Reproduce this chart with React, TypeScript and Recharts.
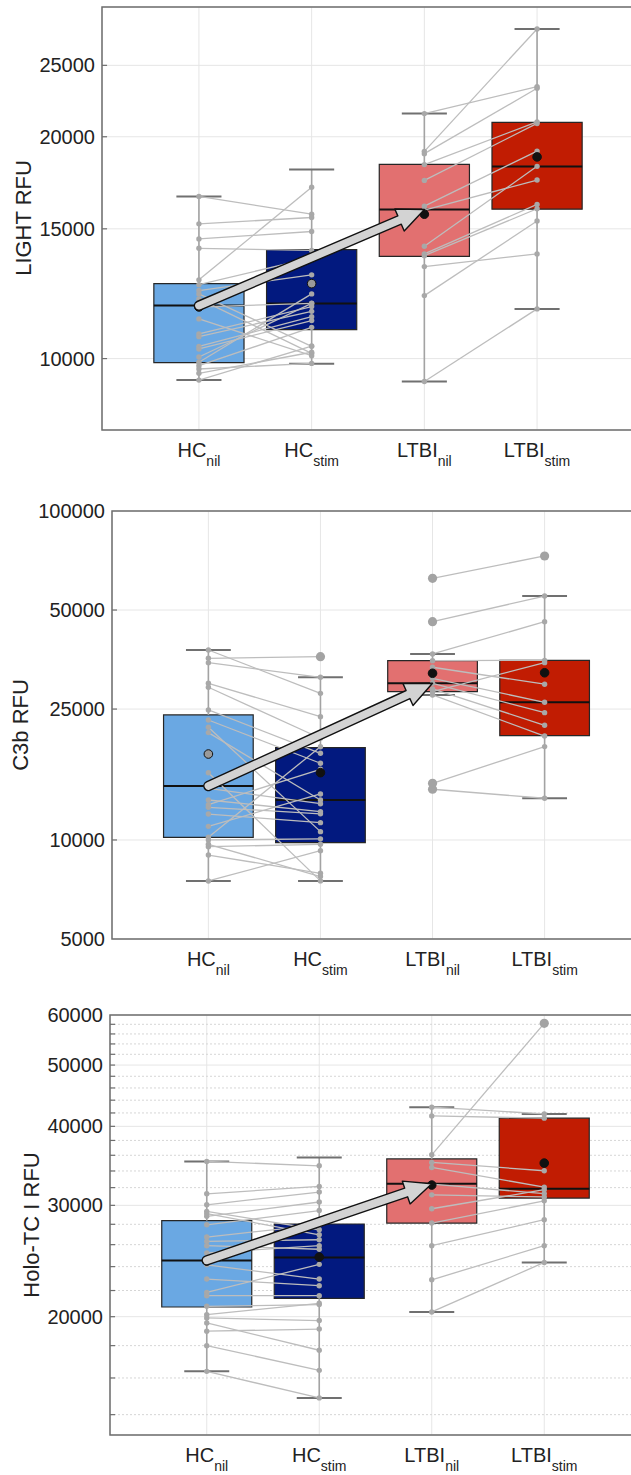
import React from "react";
import {
  CartesianGrid,
  ComposedChart,
  ReferenceArea,
  ReferenceLine,
  Scatter,
  XAxis,
  YAxis,
} from "recharts";

// categories
const catMain = ["HC", "HC", "LTBI", "LTBI"];
const catSub = ["nil", "stim", "nil", "stim"];
const catX = [1, 2, 3, 4];

// LIGHT panel
const lightHcNil = [16600, 15235, 14535, 14115, 12790, 12600, 12370, 12240, 12050, 11750, 11320, 10800, 10710, 10390, 10305, 9885, 9780, 9680, 9550, 9350, 10050];
const lightHcStim = [15700, 15540, 14875, 14020, 17080, 13700, 12990, 10390, 10165, 11885, 10090, 11765, 11590, 11400, 11260, 12240, 11025, 9850, 10200, 10400, 11880];
const lightLtbiNil = [21500, 19110, 18970, 18335, 17450, 16100, 15900, 14205, 13870, 13795, 13330, 12175, 9310];
const lightLtbiStim = [23390, 28010, 23270, 20950, 20850, 19125, 17470, 18235, 16190, 15970, 13870, 15370, 11680];
const lightQ1 = [9875, 10950, 13760, 15950];
const lightMedian = [11800, 11880, 15935, 18230];
const lightQ3 = [12640, 14060, 18350, 20920];
const lightLow = [9350, 9840, 9310, 11680];
const lightHigh = [16600, 18060, 21500, 28010];
const lightMean = [11750, 12640, 15700, 18780];
const lightTicks = [10000, 15000, 20000, 25000];
const lightDomain = [8000, 30000];

// C3b panel
const c3bHcNil = [37800, 35660, 34590, 29940, 29120, 24840, 23160, 21200, 14360, 13230, 12570, 11990, 10190, 10000, 9540, 9000, 7505, 9700, 16000, 12800, 11000, 22000];
const c3bHcStim = [27910, 36070, 31220, 23710, 20380, 18340, 17110, 13230, 12890, 12190, 12010, 11290, 19200, 10080, 9700, 7920, 9280, 7740, 7510, 16400, 13800, 10600];
const c3bLtbiNil = [62430, 46090, 36760, 35080, 33500, 31000, 29940, 28800, 28240, 27590, 14870, 14260];
const c3bLtbiStim = [72990, 55140, 46090, 35160, 29750, 26210, 24380, 22320, 34600, 20700, 19220, 13390];
const c3bQ1 = [10190, 9815, 28240, 20750];
const c3bMedian = [14590, 13230, 29940, 26210];
const c3bQ3 = [23990, 19080, 35080, 35160];
const c3bLow = [7505, 7510, 27590, 13390];
const c3bHigh = [37800, 31220, 36760, 55140];
const c3bMean = [18250, 16020, 32120, 32230];
const c3bTicks = [5000, 10000, 25000, 50000, 100000];
const c3bDomain = [5000, 100000];

// Holo-TC I panel
const holoHcNil = [35200, 31290, 30060, 29350, 29100, 28820, 27950, 26730, 26310, 25900, 25220, 24160, 22940, 21850, 21590, 20770, 20150, 19910, 19550, 18970, 18000, 16390];
const holoHcStim = [34650, 32140, 31490, 27450, 26950, 30370, 29440, 27950, 26470, 25570, 25900, 22940, 22390, 24200, 21590, 20900, 21000, 19720, 17700, 19120, 16450, 14880];
const holoLtbiNil = [42890, 41550, 36060, 35070, 34440, 32400, 31170, 29630, 28130, 25900, 22880, 20350];
const holoLtbiStim = [41850, 41210, 58210, 34030, 32060, 31310, 30930, 31760, 30500, 28470, 25900, 24370];
const holoQ1 = [20720, 21380, 28130, 30810];
const holoMedian = [24550, 24820, 32450, 31870];
const holoQ3 = [28370, 28030, 35530, 41210];
const holoLow = [16390, 14880, 20350, 24370];
const holoHigh = [35200, 35710, 42890, 41850];
const holoMean = [24500, 24850, 32300, 34990];
const holoTicks = [20000, 30000, 40000, 50000, 60000];
const holoMinorTicks = [14000, 16000, 18000, 22000, 24000, 26000, 28000, 32000, 34000, 36000, 38000, 42000, 44000, 46000, 48000, 52000, 54000, 56000, 58000];
const holoDomain = [13000, 60000];

const FONT = "'Liberation Sans', Arial, Helvetica, sans-serif";
const boxColors = ["#6aa8e3", "#02197f", "#e27070", "#c11c02"];
const xDomain = [0.14, 4.86];
const tickLen = 0.045; // inward tick length, in x units

const dot = (p: any) => <circle cx={p.cx} cy={p.cy} r={2.7} fill="#a8a8a8" />;
const bigDot = (p: any) => <circle cx={p.cx} cy={p.cy} r={4.6} fill="#a3a3a3" />;
const noShape = () => <g />;

const arrowLine = (p: any) => {
  const pts = p.points || [];
  if (pts.length < 2) return <g />;
  const a = pts[0];
  const b = pts[1];
  const dx = b.x - a.x;
  const dy = b.y - a.y;
  const len = Math.hypot(dx, dy) || 1;
  const ux = dx / len;
  const uy = dy / len;
  const nx = -uy;
  const ny = ux;
  const w = 4.5;
  const h = 12;
  const L = 27;
  const bx = b.x - ux * L;
  const by = b.y - uy * L;
  const P = (x: number, y: number) => `${x.toFixed(1)},${y.toFixed(1)}`;
  const d =
    `M${P(a.x + nx * w, a.y + ny * w)} L${P(bx + nx * w, by + ny * w)} L${P(bx + nx * h, by + ny * h)} ` +
    `L${P(b.x, b.y)} L${P(bx - nx * h, by - ny * h)} L${P(bx - nx * w, by - ny * w)} ` +
    `L${P(a.x - nx * w, a.y - ny * w)} A${w},${w} 0 0 0 ${P(a.x + nx * w, a.y + ny * w)} Z`;
  return <path d={d} fill="#d3d3d3" stroke="#111" strokeWidth={1.4} strokeLinejoin="round" />;
};

const catTick = (p: any) => {
  const i = Number(p.payload.value) - 1;
  return (
    <text x={p.x} y={p.y + 27} textAnchor="middle" fontSize={20} fill="#222" fontFamily={FONT}>
      {catMain[i]}
      <tspan dy={9} fontSize={14}>
        {catSub[i]}
      </tspan>
    </text>
  );
};

type PanelProps = {
  title: string;
  titleX: number;
  titleY: number;
  top: number;
  height: number;
  marginTop: number;
  marginRight: number;
  axisWidth: number;
  xAxisHeight: number;
  domain: number[];
  ticks: number[];
  minorTicks?: number[];
  hcNil: number[];
  hcStim: number[];
  ltbiNil: number[];
  ltbiStim: number[];
  q1: number[];
  median: number[];
  q3: number[];
  low: number[];
  high: number[];
  mean: number[];
  meanFill: string[];
};

function Panel(props: PanelProps) {
  const { domain, q1, median, q3, low, high, mean, meanFill } = props;
  const pairs = [
    ...props.hcNil.map((v, k) => [
      { x: 1, y: v },
      { x: 2, y: props.hcStim[k] },
    ]),
    ...props.ltbiNil.map((v, k) => [
      { x: 3, y: v },
      { x: 4, y: props.ltbiStim[k] },
    ]),
  ];
  const outliers = pairs.flat().filter((pt) => pt.y > high[pt.x - 1] || pt.y < low[pt.x - 1]);
  const meanPts = mean.map((m, i) => ({ x: catX[i], y: m }));
  const arrowPts = [
    { x: 1, y: median[0] },
    { x: 3, y: median[2] },
  ];
  const yTickMarks = [...props.ticks, ...(props.minorTicks || [])].filter(
    (t) => t > domain[0] && t < domain[1]
  );

  return (
    <>
      <div
        style={{
          position: "absolute",
          left: props.titleX,
          top: props.titleY,
          transform: "translate(-50%, -50%) rotate(-90deg)",
          whiteSpace: "nowrap",
          fontSize: 22,
          color: "#222",
          fontFamily: FONT,
        }}
      >
        {props.title}
      </div>
      <div style={{ position: "absolute", left: 0, top: props.top }}>
        <ComposedChart
          width={700}
          height={props.height}
          margin={{ top: props.marginTop, right: props.marginRight, left: 0, bottom: 0 }}
        >
          <CartesianGrid stroke="#e6e6e6" />
          {props.minorTicks && (
            <CartesianGrid vertical={false} horizontalValues={props.minorTicks} stroke="#d6d6d6" strokeDasharray="2 2" />
          )}
          <XAxis
            type="number"
            dataKey="x"
            domain={xDomain}
            allowDataOverflow
            ticks={catX}
            interval={0}
            tick={catTick}
            tickLine={false}
            axisLine={false}
            tickSize={0}
            tickMargin={0}
            height={props.xAxisHeight}
          />
          <YAxis
            type="number"
            dataKey="y"
            scale="log"
            domain={domain}
            allowDataOverflow
            ticks={props.ticks}
            interval={0}
            width={props.axisWidth}
            tickLine={false}
            axisLine={false}
            tickSize={0}
            tickMargin={7}
            tick={{ fill: "#222", fontSize: 20, fontFamily: FONT }}
          />
          <ReferenceArea
            x1={xDomain[0]}
            x2={xDomain[1]}
            y1={domain[0]}
            y2={domain[1]}
            fill="none"
            stroke="#6e6e6e"
            strokeWidth={1.5}
          />
          {yTickMarks.map((t) => (
            <ReferenceLine
              key={`yt${t}`}
              segment={[
                { x: xDomain[0], y: t },
                { x: xDomain[0] + tickLen, y: t },
              ]}
              stroke="#6e6e6e"
              strokeWidth={1.2}
            />
          ))}
          {catX.map((c, i) => (
            <ReferenceLine
              key={`wh${i}`}
              segment={[
                { x: c, y: q3[i] },
                { x: c, y: high[i] },
              ]}
              stroke="#a3a3a3"
              strokeWidth={1.6}
            />
          ))}
          {catX.map((c, i) => (
            <ReferenceLine
              key={`wl${i}`}
              segment={[
                { x: c, y: low[i] },
                { x: c, y: q1[i] },
              ]}
              stroke="#a3a3a3"
              strokeWidth={1.6}
            />
          ))}
          {catX.map((c, i) => (
            <ReferenceLine
              key={`ch${i}`}
              segment={[
                { x: c - 0.2, y: high[i] },
                { x: c + 0.2, y: high[i] },
              ]}
              stroke="#707070"
              strokeWidth={2}
            />
          ))}
          {catX.map((c, i) => (
            <ReferenceLine
              key={`cl${i}`}
              segment={[
                { x: c - 0.2, y: low[i] },
                { x: c + 0.2, y: low[i] },
              ]}
              stroke="#707070"
              strokeWidth={2}
            />
          ))}
          {catX.map((c, i) => (
            <ReferenceArea
              key={`box${i}`}
              x1={c - 0.4}
              x2={c + 0.4}
              y1={q1[i]}
              y2={q3[i]}
              fill={boxColors[i]}
              fillOpacity={1}
              stroke="#262626"
              strokeWidth={1.2}
            />
          ))}
          {catX.map((c, i) => (
            <ReferenceLine
              key={`med${i}`}
              segment={[
                { x: c - 0.4, y: median[i] },
                { x: c + 0.4, y: median[i] },
              ]}
              stroke="#111"
              strokeWidth={2}
            />
          ))}
          {pairs.map((pr, k) => (
            <Scatter
              key={`pair${k}`}
              data={pr}
              line={{ stroke: "#bdbdbd", strokeWidth: 1.3 }}
              shape={dot}
              isAnimationActive={false}
            />
          ))}
          <Scatter data={outliers} shape={bigDot} isAnimationActive={false} />
          <Scatter
            data={meanPts}
            shape={(p: any) => (
              <circle cx={p.cx} cy={p.cy} r={4.3} fill={meanFill[p.payload.x - 1]} stroke="#111" strokeWidth={1} />
            )}
            isAnimationActive={false}
          />
          <Scatter data={arrowPts} line={arrowLine} shape={noShape} isAnimationActive={false} />
        </ComposedChart>
      </div>
    </>
  );
}

export default function App() {
  return (
    <div
      style={{
        position: "absolute",
        left: 0,
        top: 0,
        width: 631,
        height: 1475,
        overflow: "hidden",
        background: "#fff",
        fontFamily: FONT,
      }}
    >
      <Panel
        title="LIGHT RFU"
        titleX={24}
        titleY={218}
        top={0}
        height={480}
        marginTop={7}
        marginRight={66}
        axisWidth={102}
        xAxisHeight={50}
        domain={lightDomain}
        ticks={lightTicks}
        hcNil={lightHcNil}
        hcStim={lightHcStim}
        ltbiNil={lightLtbiNil}
        ltbiStim={lightLtbiStim}
        q1={lightQ1}
        median={lightMedian}
        q3={lightQ3}
        low={lightLow}
        high={lightHigh}
        mean={lightMean}
        meanFill={["#111", "#9a9a9a", "#111", "#111"]}
      />
      <Panel
        title="C3b RFU"
        titleX={21}
        titleY={725}
        top={490}
        height={500}
        marginTop={21}
        marginRight={59}
        axisWidth={112}
        xAxisHeight={51}
        domain={c3bDomain}
        ticks={c3bTicks}
        hcNil={c3bHcNil}
        hcStim={c3bHcStim}
        ltbiNil={c3bLtbiNil}
        ltbiStim={c3bLtbiStim}
        q1={c3bQ1}
        median={c3bMedian}
        q3={c3bQ3}
        low={c3bLow}
        high={c3bHigh}
        mean={c3bMean}
        meanFill={["#9a9a9a", "#111", "#111", "#111"]}
      />
      <Panel
        title="Holo-TC I RFU"
        titleX={32}
        titleY={1225}
        top={995}
        height={480}
        marginTop={20}
        marginRight={59}
        axisWidth={110}
        xAxisHeight={40}
        domain={holoDomain}
        ticks={holoTicks}
        minorTicks={holoMinorTicks}
        hcNil={holoHcNil}
        hcStim={holoHcStim}
        ltbiNil={holoLtbiNil}
        ltbiStim={holoLtbiStim}
        q1={holoQ1}
        median={holoMedian}
        q3={holoQ3}
        low={holoLow}
        high={holoHigh}
        mean={holoMean}
        meanFill={["#111", "#111", "#111", "#111"]}
      />
    </div>
  );
}
